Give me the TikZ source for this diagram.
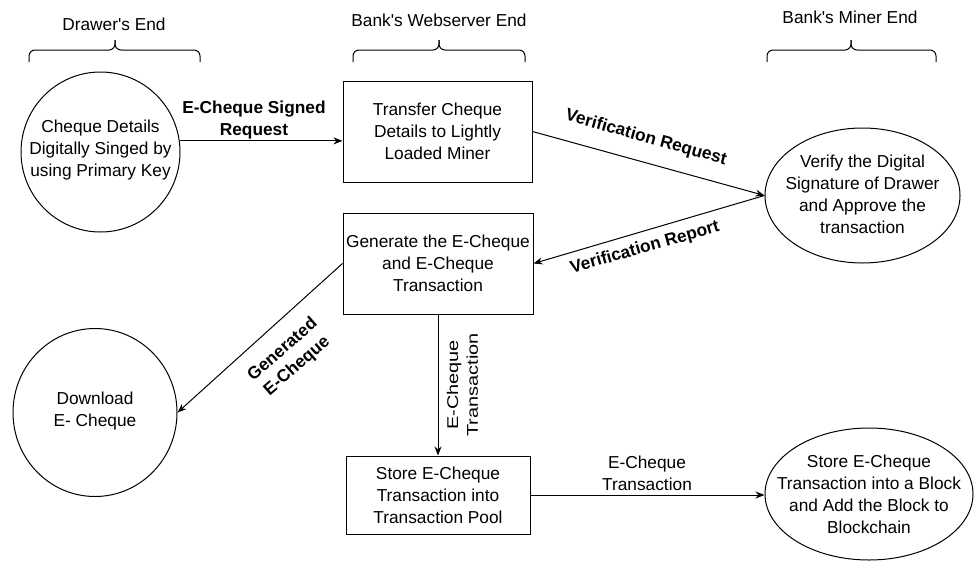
\documentclass[tikz,border=0pt]{standalone}
\usepackage{fontspec}
\setmainfont{Liberation Sans}[Ligatures=TeXOff]
\usetikzlibrary{arrows.meta,shapes.geometric}

\tikzset{
  txt/.style={font=\fontsize{17.3}{22}\selectfont, align=center, inner sep=0pt},
  boldtxt/.style={font=\fontsize{17.3}{22}\selectfont\bfseries, align=center, inner sep=0pt},
  procbox/.style={draw, line width=1pt, rectangle, inner sep=0pt},
  roundshape/.style={draw, line width=1pt, ellipse, inner sep=0pt},
  flow/.style={line width=1pt, -{Stealth[length=9pt,width=7pt]}},
  bracepath/.style={line width=1pt, rounded corners=6pt},
}

% curly brace under a column header: left end, tip, right end
\newcommand\headbrace[3]{%
  \draw[bracepath] (#1,62) -- (#1,50) -- (#2,50) -- (#2,40);
  \draw[bracepath] (#3,62) -- (#3,50) -- (#2,50) -- (#2,40);}

\begin{document}
\begin{tikzpicture}[x=1pt, y=-1pt]
  \useasboundingbox (0,0) rectangle (976,562);

  % column headers
  \node[txt] (hdrawer) at (114,24) {Drawer's End};
  \node[txt] (hweb) at (439,20) {Bank's Webserver End};
  \node[txt] (hminer) at (850,17) {Bank's Miner End};
  \headbrace{29}{115}{200}
  \headbrace{353}{439}{525}
  \headbrace{767}{851}{936}

  % round processes
  \node[roundshape, minimum width=159, minimum height=160] (c1) at (100.5,152) {};
  \node[txt] (c1t) at (100.5,150) {Cheque Details\\Digitally Singed by\\using Primary Key};

  \node[roundshape, minimum width=164, minimum height=168] (c2) at (95,412.5) {};
  \node[txt] (c2t) at (95,411) {Download\\E- Cheque};

  \node[roundshape, minimum width=195, minimum height=135] (e1) at (862.5,195.5) {};
  \node[txt] (e1t) at (862.5,194) {Verify the Digital\\Signature of Drawer\\and Approve the\\transaction};

  \node[roundshape, minimum width=208, minimum height=132] (e2) at (869,494) {};
  \node[txt] (e2t) at (869,494) {Store E-Cheque\\Transaction into a Block\\and Add the Block to\\Blockchain};

  % rectangular processes
  \node[procbox, txt, minimum width=189, minimum height=101] (b1) at (437.5,131.5)
    {Transfer Cheque\\Details to Lightly\\Loaded Miner};
  \node[procbox, txt, minimum width=190, minimum height=101] (b2) at (438,263.5)
    {Generate the E-Cheque\\and E-Cheque\\Transaction};
  \node[procbox, txt, minimum width=184, minimum height=78] (b3) at (438,495)
    {Store E-Cheque\\Transaction into\\Transaction Pool};

  % data flows
  \draw[flow] (c1.8) -- (c1.8 -| b1.west);
  \draw[flow] (b1.east) -- (e1.west);
  \draw[flow] (e1.west) -- (b2.east);
  \draw[flow] (b2.west) -- (c2.east);
  \draw[flow] (b2.south) -- (b3.north);
  \draw[flow] (b3.east) -- (e2.west |- b3.east);

  % flow labels
  \node[boldtxt] (l1) at (254,120) {E-Cheque Signed\\Request};
  \node[boldtxt, rotate=-15.6] (l2) at (646,138) {Verification Request};
  \node[boldtxt, rotate=15.8] (l3) at (645,248) {Verification Report};
  \node[boldtxt, rotate=41] (l4) at (290,358) {Generated\\E-Cheque};
  \node[txt, rotate=90] (l5) at (464,385) {\scalebox{1.15}[0.9]{\begin{tabular}{@{}c@{}}E-Cheque\\Transaction\end{tabular}}};
  \node[txt] (l6) at (647,473) {E-Cheque\\Transaction};
\end{tikzpicture}
\end{document}
